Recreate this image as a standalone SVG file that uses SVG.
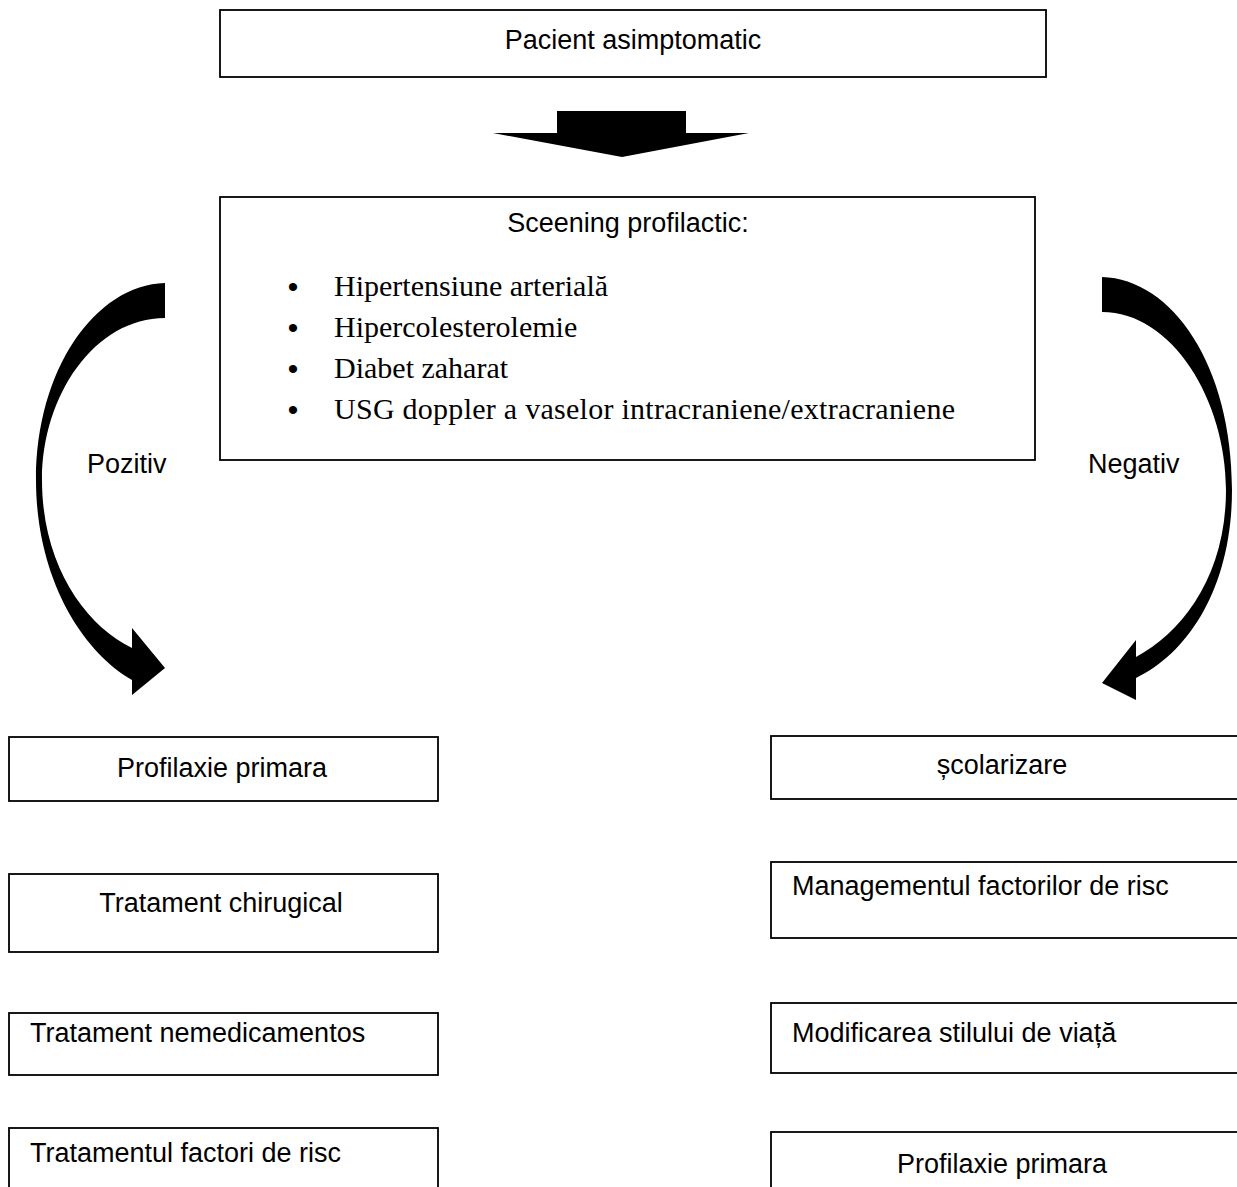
<svg xmlns="http://www.w3.org/2000/svg" width="1237" height="1187" viewBox="0 0 1237 1187">
<style>
.box{fill:#fff;stroke:#000;stroke-width:1.8}
.t{font-family:"Liberation Sans",Arial,sans-serif;font-size:27px;fill:#000}
.s{font-family:"Liberation Serif","Times New Roman",serif;font-size:30px;fill:#000}
.b{font-family:"Liberation Sans",Arial,sans-serif;font-size:30px;fill:#000}
.arr{fill:#000;stroke:none}
</style>
<rect width="1237" height="1187" fill="#fff"/>
<g id="connectors">
<polygon class="arr" points="557,111 686,111 686,133 749,133 622,157 493,133 557,133"/>
<path class="arr" d="M165,283 C95,285 36,370 36,480 C36,575 80,650 132,680 L132,695 L165,668 L132,628 L132,648 C85,625 42,565 42,480 C42,395 95,318 165,318 Z"/>
<path class="arr" d="M1102,277 C1172,279 1232,365 1232,490 C1232,585 1190,652 1136,678 L1136,700 L1102,683 L1136,640 L1136,657 C1183,632 1226,575 1226,490 C1226,400 1172,312 1102,312 Z"/>
<text class="t" x="87" y="473">Pozitiv</text>
<text class="t" x="1088" y="473">Negativ</text>
</g>
<g id="node-pacient">
<rect class="box" x="220" y="10" width="826" height="67"/>
<text class="t" x="633" y="49" text-anchor="middle">Pacient asimptomatic</text>
</g>
<g id="node-screening">
<rect class="box" x="220" y="197" width="815" height="263"/>
<text class="t" x="628" y="232" text-anchor="middle">Sceening profilactic:</text>
<text class="b" x="293" y="297" text-anchor="middle">•</text>
<text class="s" x="334" y="296">Hipertensiune arterială</text>
<text class="b" x="293" y="338" text-anchor="middle">•</text>
<text class="s" x="334" y="337">Hipercolesterolemie</text>
<text class="b" x="293" y="379" text-anchor="middle">•</text>
<text class="s" x="334" y="378">Diabet zaharat</text>
<text class="b" x="293" y="420" text-anchor="middle">•</text>
<text class="s" x="334" y="419" textLength="621" lengthAdjust="spacing">USG doppler a vaselor intracraniene/extracraniene</text>
</g>
<g id="node-l1">
<rect class="box" x="9" y="737" width="429" height="64"/>
<text class="t" x="222" y="777" text-anchor="middle">Profilaxie primara</text>
</g>
<g id="node-l2">
<rect class="box" x="9" y="874" width="429" height="78"/>
<text class="t" x="221" y="912" text-anchor="middle">Tratament chirugical</text>
</g>
<g id="node-l3">
<rect class="box" x="9" y="1013" width="429" height="62"/>
<text class="t" x="30" y="1042">Tratament nemedicamentos</text>
</g>
<g id="node-l4">
<rect class="box" x="9" y="1128" width="429" height="80"/>
<text class="t" x="30" y="1162">Tratamentul factori de  risc</text>
</g>
<g id="node-r1">
<rect class="box" x="771" y="736" width="480" height="63"/>
<text class="t" x="1002" y="774" text-anchor="middle">școlarizare</text>
</g>
<g id="node-r2">
<rect class="box" x="771" y="862" width="480" height="76"/>
<text class="t" x="792" y="895">Managementul factorilor de risc</text>
</g>
<g id="node-r3">
<rect class="box" x="771" y="1003" width="480" height="70"/>
<text class="t" x="792" y="1042">Modificarea stilului de viață</text>
</g>
<g id="node-r4">
<rect class="box" x="771" y="1132" width="480" height="80"/>
<text class="t" x="1002" y="1173" text-anchor="middle">Profilaxie primara</text>
</g>
</svg>
